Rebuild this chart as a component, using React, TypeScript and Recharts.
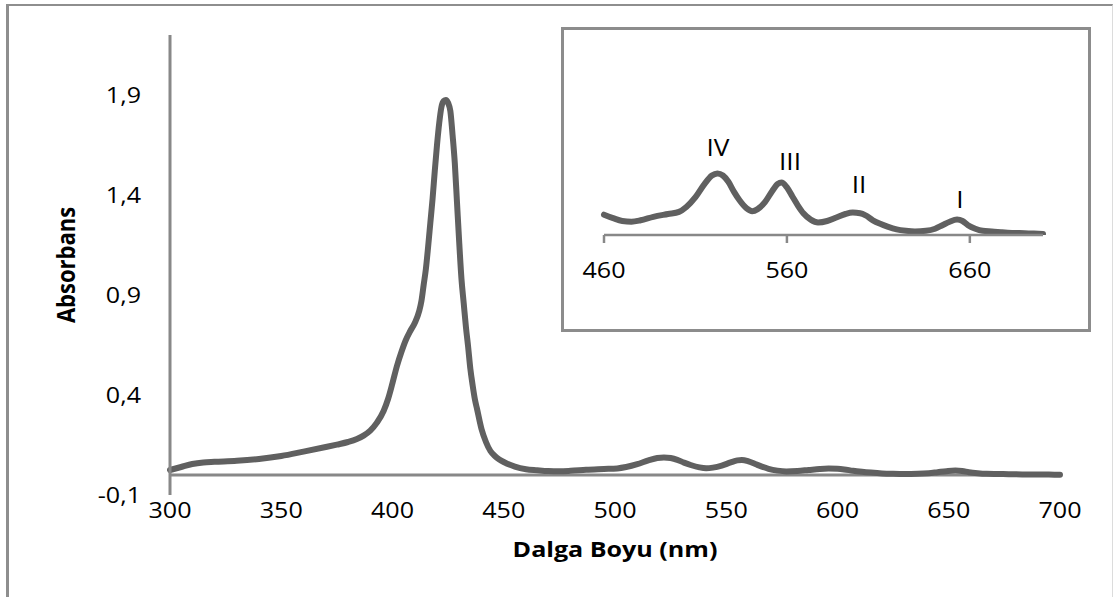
import React from 'react';
import { LineChart, Line, XAxis, YAxis, ReferenceLine, ReferenceDot } from 'recharts';

// Wavelength (nm) and absorbance
const wavelengths = [
  300, 305, 310, 315, 320, 330, 340, 350, 360, 370, 375, 380, 384, 387, 390, 393, 396, 398, 400, 402, 404,
  406, 408, 410, 412, 413, 414, 415, 416, 417, 418, 419, 420, 421, 422, 423, 424, 425, 426, 427, 428,
  429, 430, 431, 432, 433, 434, 435, 436, 437, 438, 440, 442, 444, 446, 448, 450, 455, 460, 465, 470,
  475, 480, 487, 495, 501, 505, 510, 515, 519, 522, 525, 528, 531, 534, 538, 541, 544, 548, 552, 555,
  557, 560, 563, 566, 569, 573, 577, 582, 587, 592, 596, 600, 603, 607, 611, 615, 620, 625, 630, 636,
  641, 645, 649, 653, 656, 659, 663, 667, 672, 677, 683, 690, 695, 700,
];
const absorbance = [
  0.025, 0.04, 0.055, 0.063, 0.066, 0.071, 0.08, 0.095, 0.117, 0.14, 0.152, 0.165, 0.18, 0.197, 0.222, 0.262, 0.32, 0.38, 0.46, 0.545, 0.615,
  0.675, 0.72, 0.76, 0.82, 0.87, 0.95, 1.03, 1.14, 1.26, 1.38, 1.52, 1.65, 1.76, 1.84, 1.87, 1.875, 1.86, 1.82, 1.7, 1.56,
  1.36, 1.16, 0.98, 0.86, 0.74, 0.64, 0.53, 0.45, 0.38, 0.33, 0.23, 0.165, 0.12, 0.095, 0.078, 0.065, 0.042, 0.029, 0.024, 0.02,
  0.019, 0.021, 0.026, 0.03, 0.033, 0.04, 0.054, 0.073, 0.085, 0.088, 0.085, 0.076, 0.062, 0.05, 0.038, 0.034, 0.037, 0.047, 0.063, 0.073,
  0.075, 0.068, 0.055, 0.042, 0.031, 0.022, 0.018, 0.02, 0.025, 0.03, 0.032, 0.031, 0.028, 0.021, 0.016, 0.012, 0.008, 0.006, 0.005, 0.006,
  0.009, 0.014, 0.019, 0.022, 0.02, 0.014, 0.009, 0.006, 0.005, 0.004, 0.003, 0.0025, 0.002, 0.0015,
];

const mainXTicks = [300, 350, 400, 450, 500, 550, 600, 650, 700];
const mainYTicks = [-0.1, 0.4, 0.9, 1.4, 1.9];
const insetXTicks = [460, 560, 660];

// Q-band labels of the inset
const bandNames = ['IV', 'III', 'II', 'I'];
const bandLabelNm = [522.3, 561.7, 599.4, 654.6];
const bandLabelA = [0.124, 0.104, 0.071, 0.05];

const xTitle = 'Dalga Boyu (nm)';
const yTitle = 'Absorbans';

const data = wavelengths.map((nm, i) => ({ nm, a: absorbance[i] }));
const insetData = data.filter((d) => d.nm >= 460);

const FONT = '"Open Sans", sans-serif';
const SX = 1.14;
const AXIS = '#888888';
const CURVE = '#606060';

const fmt = (v: number) => v.toFixed(1).replace('.', ',');

const makeXTick = (off: number) => (p: any) => (
  <g transform={`translate(${p.x},${p.y + off}) scale(${SX},1)`}>
    <text x={0} y={0} dy="0.35em" textAnchor="middle" fontFamily={FONT} fontSize={22} fill="#000">
      {p.payload.value}
    </text>
  </g>
);

const yTick = (p: any) => (
  <g transform={`translate(${p.x - 29},${p.y}) scale(${SX},1)`}>
    <text x={0} y={0} dy="0.35em" textAnchor="end" fontFamily={FONT} fontSize={22} fill="#000">
      {fmt(p.payload.value)}
    </text>
  </g>
);

const xLabel = (p: any) => {
  const vb = p.viewBox || { x: 170, y: 495, width: 890, height: 30 };
  return (
    <g transform={`translate(${vb.x + vb.width / 2},${vb.y + 62}) scale(${SX},1)`}>
      <text x={0} y={0} textAnchor="middle" fontFamily={FONT} fontSize={22} fontWeight={700} fill="#000">
        {xTitle}
      </text>
    </g>
  );
};

const yLabel = (p: any) => {
  const vb = p.viewBox || { x: 110, y: 35, width: 60, height: 460 };
  return (
    <g transform={`translate(${vb.x - 44},${vb.y + vb.height / 2}) scale(${SX},1) rotate(-90)`}>
      <text x={0} y={0} dy="0.35em" textAnchor="middle" fontFamily={FONT} fontSize={22} fontWeight={700} fill="#000">
        {yTitle}
      </text>
    </g>
  );
};

const bandShape = (name: string) => (p: any) => (
  <g transform={`translate(${p.cx},${p.cy}) scale(${SX},1)`}>
    <text x={0} y={0} dy="0.35em" textAnchor="middle" fontFamily={FONT} fontSize={23} fill="#000">
      {name}
    </text>
  </g>
);

export default function App() {
  return (
    <div style={{ position: 'absolute', left: 0, top: 0, width: 1115, height: 597, background: '#fff', overflow: 'hidden' }}>
      <div
        style={{
          position: 'absolute',
          left: 6,
          top: 4,
          width: 1107,
          height: 620,
          boxSizing: 'border-box',
          borderLeft: '3px solid #8e8e8e',
          borderTop: '2px solid #8e8e8e',
          borderRight: '1px solid #dcdcdc',
        }}
      />
      <div style={{ position: 'absolute', left: 0, top: 0 }}>
        <LineChart width={1115} height={597} data={data} margin={{ top: 35, right: 55, left: 110, bottom: 72 }}>
          <XAxis
            dataKey="nm"
            type="number"
            domain={[300, 700]}
            ticks={mainXTicks}
            interval={0}
            axisLine={false}
            tickLine={false}
            tickSize={0}
            tickMargin={0}
            height={30}
            tick={makeXTick(15)}
            label={{ content: xLabel }}
          />
          <YAxis
            type="number"
            domain={[-0.1, 2.2]}
            ticks={mainYTicks}
            interval={0}
            allowDataOverflow
            width={60}
            axisLine={{ stroke: AXIS, strokeWidth: 3 }}
            tickLine={false}
            tickSize={0}
            tickMargin={0}
            tick={yTick}
            label={{ content: yLabel }}
          />
          <ReferenceLine y={0} stroke={AXIS} strokeWidth={3} />
          <Line
            type="monotone"
            dataKey="a"
            stroke={CURVE}
            strokeWidth={6}
            dot={false}
            isAnimationActive={false}
            strokeLinejoin="round"
            strokeLinecap="round"
          />
        </LineChart>
      </div>
      <div
        style={{
          position: 'absolute',
          left: 561,
          top: 27,
          width: 530,
          height: 305,
          boxSizing: 'border-box',
          border: '3px solid #8c8c8c',
          background: '#fff',
        }}
      >
        <div style={{ position: 'absolute', left: 0, top: 0 }}>
          <LineChart width={524} height={299} data={insetData} margin={{ top: 9, right: 45, left: 40, bottom: 54 }}>
            <XAxis
              dataKey="nm"
              type="number"
              domain={[460, 700]}
              ticks={insetXTicks}
              interval={0}
              axisLine={{ stroke: AXIS, strokeWidth: 2.5 }}
              tickLine={{ stroke: AXIS, strokeWidth: 2.5 }}
              tickSize={8}
              tickMargin={0}
              height={40}
              tick={makeXTick(27)}
            />
            <YAxis hide type="number" domain={[0, 0.28]} allowDataOverflow />
            <Line
              type="monotone"
              dataKey="a"
              stroke={CURVE}
              strokeWidth={6}
              dot={false}
              isAnimationActive={false}
              strokeLinejoin="round"
              strokeLinecap="round"
            />
            {bandNames.map((name, i) => (
              <ReferenceDot
                key={name}
                x={bandLabelNm[i]}
                y={bandLabelA[i]}
                r={1}
                ifOverflow="visible"
                shape={bandShape(name)}
              />
            ))}
          </LineChart>
        </div>
      </div>
    </div>
  );
}
